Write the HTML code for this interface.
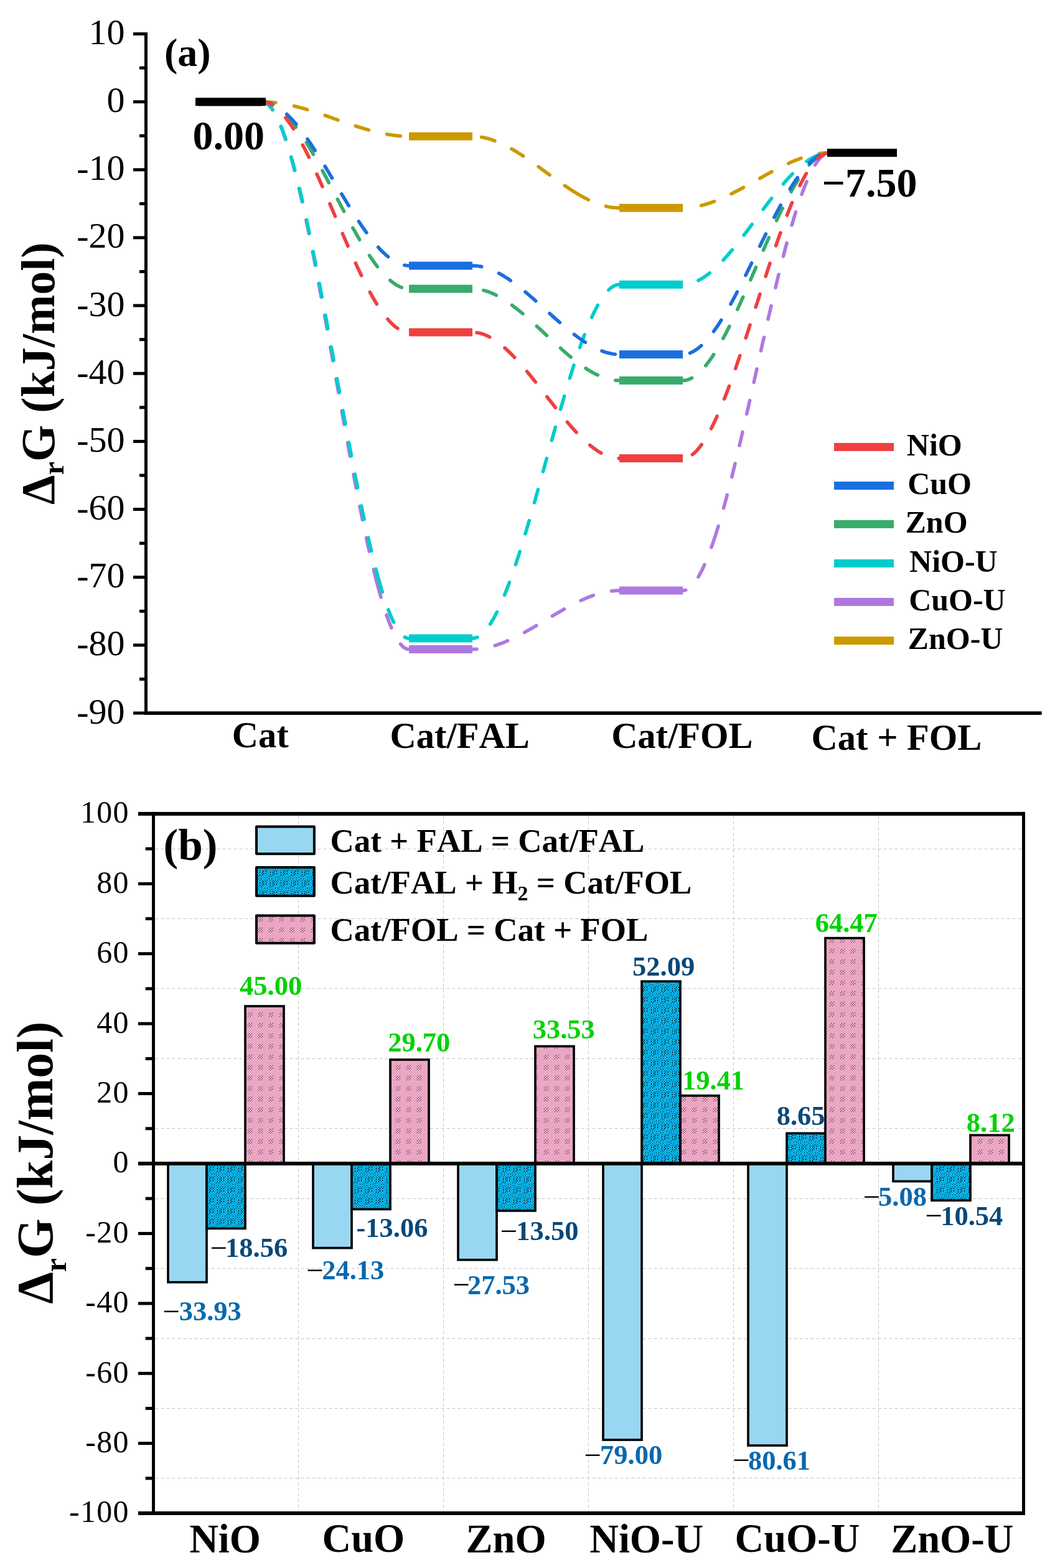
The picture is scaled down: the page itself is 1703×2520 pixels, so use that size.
<!DOCTYPE html>
<html><head><meta charset="utf-8"><style>
html,body{margin:0;padding:0;background:#fff;}
svg{display:block;}
text{font-kerning:none;font-family:"Liberation Serif",serif;}
</style></head><body>
<svg width="1703" height="2520" viewBox="0 0 1703 2520"  style="font-kerning:none">
<rect width="1703" height="2520" fill="#fff"/>
<rect x="214" y="52.00" width="20.50" height="5" fill="#000"/>
<text x="142.51" y="71.00" font-size="58" fill="#000" >10</text>
<rect x="214" y="161.15" width="20.50" height="5" fill="#000"/>
<text x="171.51" y="180.15" font-size="58" fill="#000" >0</text>
<rect x="214" y="270.30" width="20.50" height="5" fill="#000"/>
<text x="123.19" y="289.30" font-size="58" fill="#000" >-10</text>
<rect x="214" y="379.45" width="20.50" height="5" fill="#000"/>
<text x="123.19" y="398.45" font-size="58" fill="#000" >-20</text>
<rect x="214" y="488.60" width="20.50" height="5" fill="#000"/>
<text x="123.19" y="507.60" font-size="58" fill="#000" >-30</text>
<rect x="214" y="597.75" width="20.50" height="5" fill="#000"/>
<text x="123.19" y="616.75" font-size="58" fill="#000" >-40</text>
<rect x="214" y="706.90" width="20.50" height="5" fill="#000"/>
<text x="123.19" y="725.90" font-size="58" fill="#000" >-50</text>
<rect x="214" y="816.05" width="20.50" height="5" fill="#000"/>
<text x="123.19" y="835.05" font-size="58" fill="#000" >-60</text>
<rect x="214" y="925.20" width="20.50" height="5" fill="#000"/>
<text x="123.19" y="944.20" font-size="58" fill="#000" >-70</text>
<rect x="214" y="1034.35" width="20.50" height="5" fill="#000"/>
<text x="123.19" y="1053.35" font-size="58" fill="#000" >-80</text>
<rect x="214" y="1143.50" width="20.50" height="5" fill="#000"/>
<text x="123.19" y="1162.50" font-size="58" fill="#000" >-90</text>
<rect x="224" y="106.58" width="10.50" height="5" fill="#000"/>
<rect x="224" y="215.72" width="10.50" height="5" fill="#000"/>
<rect x="224" y="324.88" width="10.50" height="5" fill="#000"/>
<rect x="224" y="434.02" width="10.50" height="5" fill="#000"/>
<rect x="224" y="543.17" width="10.50" height="5" fill="#000"/>
<rect x="224" y="652.32" width="10.50" height="5" fill="#000"/>
<rect x="224" y="761.47" width="10.50" height="5" fill="#000"/>
<rect x="224" y="870.62" width="10.50" height="5" fill="#000"/>
<rect x="224" y="979.77" width="10.50" height="5" fill="#000"/>
<rect x="224" y="1088.92" width="10.50" height="5" fill="#000"/>
<rect x="232" y="52" width="5" height="1097" fill="#000"/>
<rect x="232" y="1143.3" width="1441.6" height="5.6" fill="#000"/>
<text x="263.99" y="106.38" font-size="64" font-weight="bold" fill="#000" >(a)</text>
<text transform="translate(86.80,810.90) rotate(-90)" x="0" y="0" font-size="76" font-weight="bold">&#916;<tspan font-size="48" dy="15.1">r</tspan><tspan dy="-15.1">G (kJ/mol)</tspan></text>
<text x="372.84" y="1201.13" font-size="58.5" font-weight="bold" fill="#000" >Cat</text>
<text x="626.44" y="1202.43" font-size="58.5" font-weight="bold" fill="#000" >Cat/FAL</text>
<text x="982.14" y="1202.43" font-size="58.5" font-weight="bold" fill="#000" >Cat/FOL</text>
<text x="1303.54" y="1204.93" font-size="58.5" font-weight="bold" fill="#000" >Cat + FOL</text>
<path d="M421.0,163.7 L423.2,163.7 L425.4,163.7 L427.6,163.8 L429.8,163.9 L432.0,164.0 L434.2,164.2 L436.4,164.3 L438.6,164.5 L440.8,164.8 L442.9,165.0 M472.4,170.4 L474.6,170.9 L476.7,171.5 L478.8,172.0 L481.0,172.6 L483.1,173.1 L485.2,173.7 L487.3,174.3 L489.4,174.9 L491.6,175.6 L493.7,176.2 M522.2,185.5 L524.3,186.2 L526.3,186.9 L528.4,187.7 L530.5,188.4 L532.6,189.1 L534.6,189.8 L536.7,190.6 L538.8,191.3 L540.9,192.0 L542.9,192.8 M571.3,202.5 L573.4,203.2 L575.5,203.8 L577.6,204.5 L579.7,205.2 L581.8,205.8 L583.9,206.4 L586.0,207.1 L588.1,207.7 L590.2,208.3 L592.4,208.9 M621.6,215.7 L623.7,216.1 L625.9,216.5 L628.1,216.8 L630.3,217.1 L632.4,217.4 L634.6,217.7 L636.8,217.9 L639.0,218.2 L641.2,218.4 L643.4,218.6" fill="none" stroke="#CC9900" stroke-width="5.6" stroke-linecap="round" stroke-linejoin="round"/>
<path d="M773.7,220.4 L775.9,220.8 L778.0,221.2 L780.2,221.7 L782.3,222.2 L784.4,222.8 L786.6,223.4 L788.7,224.1 L790.7,224.8 L792.8,225.5 L794.9,226.3 M821.9,239.3 L823.8,240.4 L825.7,241.5 L827.6,242.6 L829.5,243.7 L831.3,244.9 L833.2,246.1 L835.1,247.2 L836.9,248.4 L838.8,249.6 L840.6,250.8 M865.2,268.0 L867.0,269.3 L868.8,270.6 L870.5,271.9 L872.3,273.2 L874.1,274.5 L875.9,275.8 L877.6,277.1 L879.4,278.4 L881.2,279.7 L883.0,281.0 M907.4,298.4 L909.2,299.6 L911.1,300.8 L912.9,302.1 L914.7,303.3 L916.6,304.5 L918.4,305.7 L920.3,306.8 L922.1,308.0 L924.0,309.2 L925.9,310.3 M926.1,310.4 L927.9,311.6 L929.8,312.7 L931.7,313.8 L933.6,314.9 L935.6,315.9 L937.5,317.0 L939.4,318.0 L941.4,319.0 L943.4,320.0 L945.3,321.0 M973.4,331.4 L975.8,332.0 L978.1,332.5 L980.5,332.9 L982.9,333.3 L985.3,333.6 L987.7,333.8 L990.2,334.0 L992.6,334.1 L995.0,334.1" fill="none" stroke="#CC9900" stroke-width="5.6" stroke-linecap="round" stroke-linejoin="round"/>
<path d="M1126.7,330.3 L1128.8,329.7 L1130.9,329.2 L1133.0,328.6 L1135.2,327.9 L1137.3,327.3 L1139.3,326.6 L1141.4,325.9 L1143.5,325.2 L1145.6,324.4 L1147.6,323.7 M1175.0,311.5 L1177.0,310.5 L1179.0,309.5 L1180.9,308.5 L1182.9,307.5 L1184.8,306.5 L1186.8,305.4 L1188.7,304.4 L1190.7,303.3 L1192.6,302.3 L1194.5,301.2 M1220.7,286.6 L1222.6,285.5 L1224.5,284.5 L1226.5,283.4 L1228.4,282.3 L1230.3,281.3 L1232.2,280.2 L1234.2,279.1 L1236.1,278.1 L1238.0,277.0 L1240.0,276.0 M1266.8,262.5 L1268.8,261.6 L1270.8,260.7 L1272.8,259.9 L1274.8,259.0 L1276.9,258.2 L1278.9,257.3 L1281.0,256.5 L1283.0,255.8 L1285.1,255.0 L1287.1,254.2 M1316.2,246.8 L1318.6,246.5 L1321.0,246.2 L1323.4,245.9 L1325.8,245.8 L1328.2,245.6 L1330.6,245.5 L1333.0,245.5" fill="none" stroke="#CC9900" stroke-width="5.6" stroke-linecap="round" stroke-linejoin="round"/>
<path d="M421.0,163.7 L423.2,163.9 L425.3,164.5 L427.3,165.5 L429.1,166.7 L430.8,168.1 L432.4,169.6 L433.9,171.2 L435.3,172.9 L436.6,174.7 L437.9,176.5 M451.2,203.3 L452.0,205.3 L452.8,207.4 L453.6,209.4 L454.4,211.5 L455.1,213.6 L455.9,215.6 L456.6,217.7 L457.3,219.8 L458.0,221.9 L458.7,224.0 M467.5,252.6 L468.1,254.8 L468.7,256.9 L469.3,259.0 L469.8,261.1 L470.4,263.2 L471.0,265.4 L471.6,267.5 L472.1,269.6 L472.7,271.8 L473.2,273.9 M480.4,303.0 L481.0,305.1 L481.5,307.3 L482.0,309.4 L482.5,311.6 L483.0,313.7 L483.4,315.9 L483.9,318.0 L484.4,320.1 L484.9,322.3 L485.4,324.4 M491.8,353.7 L492.3,355.9 L492.7,358.0 L493.2,360.2 L493.6,362.4 L494.1,364.5 L494.5,366.7 L495.0,368.8 L495.4,371.0 L495.9,373.1 L496.3,375.3 M502.2,404.7 L502.7,406.8 L503.1,409.0 L503.5,411.2 L503.9,413.3 L504.4,415.5 L504.8,417.6 L505.2,419.8 L505.6,422.0 L506.1,424.1 L506.5,426.3 M512.1,455.7 L512.5,457.9 L512.9,460.1 L513.3,462.2 L513.7,464.4 L514.1,466.6 L514.5,468.7 L514.9,470.9 L515.3,473.0 L515.7,475.2 L516.1,477.4 M521.6,506.9 L522.0,509.0 L522.4,511.2 L522.8,513.4 L523.2,515.5 L523.6,517.7 L523.9,519.9 L524.3,522.0 L524.7,524.2 L525.1,526.3 L525.5,528.5 M530.8,558.0 L531.2,560.2 L531.6,562.4 L532.0,564.5 L532.4,566.7 L532.8,568.9 L533.2,571.0 L533.6,573.2 L534.0,575.4 L534.3,577.5 L534.7,579.7 M540.0,609.2 L540.4,611.4 L540.8,613.6 L541.2,615.7 L541.6,617.9 L541.9,620.1 L542.3,622.2 L542.7,624.4 L543.1,626.5 L543.5,628.7 L543.9,630.9 M549.2,660.4 L549.6,662.6 L550.0,664.7 L550.4,666.9 L550.7,669.1 L551.1,671.2 L551.5,673.4 L551.9,675.6 L552.3,677.7 L552.7,679.9 L553.1,682.1 M558.5,711.6 L558.9,713.7 L559.3,715.9 L559.7,718.1 L560.1,720.2 L560.5,722.4 L560.9,724.5 L561.3,726.7 L561.7,728.9 L562.1,731.0 L562.5,733.2 M568.0,762.7 L568.4,764.8 L568.9,767.0 L569.3,769.2 L569.7,771.3 L570.1,773.5 L570.5,775.6 L570.9,777.8 L571.4,780.0 L571.8,782.1 L572.2,784.3 M578.0,813.7 L578.4,815.9 L578.9,818.0 L579.3,820.2 L579.7,822.3 L580.2,824.5 L580.6,826.7 L581.1,828.8 L581.5,831.0 L581.9,833.1 L582.4,835.3 M588.6,864.6 L589.1,866.8 L589.5,868.9 L590.0,871.1 L590.5,873.2 L591.0,875.4 L591.4,877.5 L591.9,879.7 L592.4,881.8 L592.9,884.0 L593.4,886.1 M600.2,915.3 L600.8,917.4 L601.3,919.6 L601.8,921.7 L602.4,923.8 L602.9,926.0 L603.4,928.1 L604.0,930.2 L604.5,932.4 L605.1,934.5 L605.6,936.6 M606.2,938.7 L606.7,940.8 L607.3,942.9 L607.9,945.0 L608.5,947.2 L609.0,949.3 L609.6,951.4 L610.2,953.5 L610.8,955.6 L611.4,957.8 L612.0,959.9 M621.1,988.5 L621.8,990.6 L622.5,992.6 L623.3,994.7 L624.0,996.8 L624.8,998.8 L625.6,1000.9 L626.4,1002.9 L627.2,1005.0 L628.0,1007.0 L628.9,1009.0 M643.5,1035.1 L645.0,1036.9 L646.7,1038.6 L648.4,1040.1 L650.4,1041.5 L652.4,1042.5 L654.7,1043.3 L657.0,1043.5" fill="none" stroke="#AD79E0" stroke-width="5.6" stroke-linecap="round" stroke-linejoin="round"/>
<path d="M759.0,1043.5 L762.4,1043.4 L765.8,1043.3 M795.2,1037.5 L797.3,1036.9 L799.4,1036.2 L801.4,1035.4 L803.5,1034.7 L805.6,1033.9 L807.6,1033.1 L809.7,1032.3 L811.7,1031.5 L813.7,1030.6 L815.7,1029.8 M842.6,1016.4 L844.5,1015.3 L846.4,1014.2 L848.3,1013.2 L850.3,1012.1 L852.2,1011.0 L854.1,1009.9 L856.0,1008.8 L857.9,1007.7 L859.8,1006.6 L861.7,1005.4 M887.4,990.1 L889.3,988.9 L891.2,987.8 L893.1,986.7 L895.0,985.6 L896.9,984.5 L898.8,983.4 L900.7,982.3 L902.6,981.2 L904.5,980.1 L906.4,979.0 M933.1,965.2 L935.1,964.3 L937.1,963.4 L939.1,962.5 L941.1,961.6 L943.1,960.8 L945.2,959.9 L947.2,959.1 L949.3,958.4 L951.3,957.6 L953.4,956.9 M982.5,949.9 L985.0,949.6 L987.5,949.4 L990.0,949.2 L992.5,949.1 L995.0,949.1" fill="none" stroke="#AD79E0" stroke-width="5.6" stroke-linecap="round" stroke-linejoin="round"/>
<path d="M1097.0,949.1 L1099.3,948.9 L1101.6,948.3 M1122.0,927.1 L1123.1,925.2 L1124.2,923.2 L1125.2,921.3 L1126.2,919.3 L1127.2,917.4 L1128.2,915.4 L1129.2,913.4 L1130.1,911.4 L1131.0,909.4 L1131.9,907.4 M1142.9,879.5 L1143.8,876.9 L1144.8,874.3 L1145.7,871.7 L1146.6,869.1 L1147.4,866.4 M1147.4,866.4 L1148.1,864.4 L1148.8,862.3 L1149.5,860.2 L1150.2,858.1 L1150.8,856.0 L1151.5,853.9 L1152.2,851.8 L1152.8,849.7 L1153.5,847.6 L1154.1,845.5 M1162.5,816.7 L1163.1,814.6 L1163.7,812.4 L1164.2,810.3 L1164.8,808.2 L1165.4,806.1 L1166.0,803.9 L1166.5,801.8 L1167.1,799.7 L1167.7,797.6 L1168.2,795.4 M1175.7,766.4 L1176.3,764.3 L1176.8,762.1 L1177.3,760.0 L1177.9,757.9 L1178.4,755.7 L1178.9,753.6 L1179.5,751.4 L1180.0,749.3 L1180.5,747.2 L1181.0,745.0 M1188.0,715.9 L1188.5,713.7 L1189.0,711.6 L1189.5,709.4 L1190.0,707.3 L1190.5,705.2 L1191.0,703.0 L1191.5,700.9 L1192.0,698.7 L1192.5,696.6 L1193.0,694.4 M1199.7,665.2 L1200.2,663.1 L1200.7,660.9 L1201.2,658.8 L1201.7,656.6 L1202.2,654.5 L1202.7,652.3 L1203.1,650.2 L1203.6,648.0 L1204.1,645.9 L1204.6,643.7 M1211.2,614.5 L1211.6,612.3 L1212.1,610.2 L1212.6,608.0 L1213.1,605.9 L1213.6,603.7 L1214.0,601.6 L1214.5,599.4 L1215.0,597.3 L1215.5,595.1 L1216.0,593.0 M1222.5,563.7 L1223.0,561.6 L1223.5,559.4 L1224.0,557.3 L1224.4,555.1 L1224.9,553.0 L1225.4,550.8 L1225.9,548.7 L1226.4,546.6 L1226.9,544.4 L1227.4,542.3 M1234.0,513.0 L1234.5,510.9 L1235.0,508.7 L1235.5,506.6 L1236.0,504.4 L1236.5,502.3 L1237.0,500.2 L1237.5,498.0 L1238.0,495.9 L1238.5,493.7 L1239.0,491.6 M1245.9,462.4 L1246.4,460.2 L1246.9,458.1 L1247.4,456.0 L1247.9,453.8 L1248.5,451.7 L1249.0,449.6 L1249.5,447.4 L1250.0,445.3 L1250.5,443.1 L1251.1,441.0 M1258.4,411.9 L1259.0,409.8 L1259.5,407.7 L1260.1,405.5 L1260.6,403.4 L1261.2,401.3 L1261.8,399.1 L1262.3,397.0 L1262.9,394.9 L1263.5,392.8 L1264.0,390.6 M1272.1,361.8 L1272.8,359.7 L1273.4,357.5 L1274.0,355.4 L1274.6,353.3 L1275.3,351.2 L1275.9,349.1 L1276.6,347.0 L1277.2,344.9 L1277.9,342.8 L1278.5,340.7 M1288.1,312.3 L1288.8,310.2 L1289.6,308.1 L1290.4,306.1 L1291.2,304.0 L1291.9,302.0 L1292.7,299.9 L1293.6,297.9 L1294.4,295.8 L1295.2,293.8 L1296.1,291.8 M1309.5,265.0 L1310.7,263.2 L1311.9,261.3 L1313.2,259.5 L1314.5,257.8 L1315.9,256.1 L1317.3,254.4 L1318.9,252.8 L1320.4,251.3 L1322.1,249.9 L1323.9,248.6" fill="none" stroke="#AD79E0" stroke-width="5.6" stroke-linecap="round" stroke-linejoin="round"/>
<path d="M421.0,163.7 L423.2,163.9 L425.3,164.5 L427.3,165.4 L429.1,166.6 L430.8,168.0 L432.4,169.5 L433.9,171.1 L435.3,172.8 L436.7,174.6 L438.0,176.4 M451.5,203.1 L452.3,205.1 L453.1,207.2 L453.9,209.2 L454.7,211.3 L455.4,213.3 L456.2,215.4 L456.9,217.5 L457.6,219.6 L458.4,221.6 L459.1,223.7 M467.9,252.4 L468.5,254.5 L469.1,256.6 L469.7,258.7 L470.3,260.9 L470.9,263.0 L471.5,265.1 L472.0,267.2 L472.6,269.4 L473.2,271.5 L473.7,273.6 M481.0,302.7 L481.6,304.8 L482.1,307.0 L482.6,309.1 L483.1,311.3 L483.6,313.4 L484.1,315.5 L484.6,317.7 L485.1,319.8 L485.6,322.0 L486.1,324.1 M492.6,353.4 L493.0,355.6 L493.5,357.7 L493.9,359.9 L494.4,362.0 L494.9,364.2 L495.3,366.3 L495.8,368.5 L496.2,370.6 L496.7,372.8 L497.1,374.9 M503.1,404.3 L503.6,406.5 L504.0,408.6 L504.4,410.8 L504.9,413.0 L505.3,415.1 L505.7,417.3 L506.2,419.4 L506.6,421.6 L507.0,423.7 L507.4,425.9 M513.1,455.4 L513.6,457.5 L514.0,459.7 L514.4,461.8 L514.8,464.0 L515.2,466.2 L515.6,468.3 L516.0,470.5 L516.4,472.6 L516.8,474.8 L517.3,477.0 M522.8,506.5 L523.2,508.6 L523.6,510.8 L524.0,512.9 L524.4,515.1 L524.8,517.3 L525.2,519.4 L525.6,521.6 L526.0,523.8 L526.4,525.9 L526.8,528.1 M532.2,557.6 L532.6,559.8 L533.0,561.9 L533.4,564.1 L533.8,566.2 L534.2,568.4 L534.6,570.6 L535.0,572.7 L535.4,574.9 L535.8,577.1 L536.2,579.2 M541.5,608.7 L541.9,610.9 L542.3,613.1 L542.7,615.2 L543.1,617.4 L543.5,619.6 L543.9,621.7 L544.3,623.9 L544.7,626.1 L545.1,628.2 L545.5,630.4 M550.9,659.9 L551.3,662.1 L551.7,664.2 L552.1,666.4 L552.5,668.5 L552.9,670.7 L553.3,672.9 L553.7,675.0 L554.1,677.2 L554.5,679.4 L554.9,681.5 M560.4,711.0 L560.8,713.2 L561.3,715.3 L561.7,717.5 L562.1,719.7 L562.5,721.8 L562.9,724.0 L563.3,726.1 L563.7,728.3 L564.1,730.5 L564.5,732.6 M570.3,762.1 L570.7,764.2 L571.1,766.4 L571.5,768.6 L572.0,770.7 L572.4,772.9 L572.8,775.0 L573.2,777.2 L573.7,779.3 L574.1,781.5 L574.5,783.7 M580.5,813.0 L581.0,815.2 L581.4,817.4 L581.9,819.5 L582.3,821.7 L582.8,823.8 L583.3,826.0 L583.7,828.1 L584.2,830.3 L584.6,832.4 L585.1,834.6 M591.6,863.9 L592.1,866.0 L592.6,868.2 L593.0,870.3 L593.5,872.4 L594.0,874.6 L594.5,876.7 L595.0,878.9 L595.6,881.0 L596.1,883.1 L596.6,885.3 M603.8,914.4 L604.4,916.7 L605.0,919.0 L605.7,921.3 L606.3,923.5 L606.9,925.8 L607.5,928.1 L608.1,930.4 M608.1,930.4 L608.7,932.5 L609.3,934.6 L609.9,936.7 L610.5,938.8 L611.2,941.0 L611.8,943.1 L612.4,945.2 L613.0,947.3 L613.7,949.4 L614.3,951.5 M623.9,979.9 L624.7,982.0 L625.5,984.0 L626.3,986.1 L627.2,988.1 L628.0,990.1 L628.9,992.1 L629.8,994.2 L630.7,996.2 L631.6,998.1 L632.6,1000.1 M650.3,1023.9 L653.5,1025.4 L657.0,1025.9" fill="none" stroke="#00CCCC" stroke-width="5.6" stroke-linecap="round" stroke-linejoin="round"/>
<path d="M759.0,1025.9 L761.7,1025.7 L764.4,1025.1 L766.9,1024.1 M787.6,1002.9 L788.8,1001.0 L790.0,999.1 L791.1,997.2 L792.2,995.3 L793.3,993.4 L794.3,991.5 L795.4,989.6 L796.4,987.6 L797.4,985.6 L798.4,983.7 M810.6,956.3 L811.4,954.2 L812.2,952.2 L813.0,950.2 L813.8,948.1 L814.6,946.0 L815.4,944.0 L816.2,941.9 L817.0,939.9 L817.7,937.8 L818.5,935.8 M828.4,907.4 L829.1,905.3 L829.8,903.2 L830.4,901.2 L831.1,899.1 L831.8,897.0 L832.5,894.9 L833.2,892.8 L833.8,890.7 L834.5,888.6 L835.2,886.5 M844.0,857.8 L844.6,855.7 L845.3,853.6 L845.9,851.5 L846.5,849.4 L847.1,847.3 L847.8,845.2 L848.4,843.1 L849.0,841.0 L849.6,838.8 L850.2,836.7 M858.5,807.9 L859.1,805.8 L859.7,803.7 L860.3,801.5 L860.9,799.4 L861.5,797.3 L862.1,795.2 L862.7,793.1 L863.3,791.0 L863.9,788.8 L864.5,786.7 M872.5,757.8 L873.1,755.7 L873.7,753.6 L874.3,751.5 L874.9,749.3 L875.5,747.2 L876.0,745.1 L876.6,743.0 L877.2,740.9 L877.8,738.7 L878.4,736.6 M886.4,707.7 L887.0,705.6 L887.6,703.5 L888.2,701.4 L888.8,699.2 L889.4,697.1 L890.0,695.0 L890.6,692.9 L891.2,690.8 L891.7,688.6 L892.3,686.5 M900.6,657.7 L901.2,655.6 L901.8,653.4 L902.4,651.3 L903.0,649.2 L903.6,647.1 L904.2,645.0 L904.8,642.9 L905.5,640.8 L906.1,638.7 L906.7,636.5 M915.4,607.8 L916.0,605.7 L916.7,603.6 L917.3,601.5 L918.0,599.4 L918.7,597.3 L919.3,595.2 L920.0,593.1 L920.7,591.0 L921.3,588.9 L922.0,586.9 M931.6,558.4 L932.3,556.4 L933.1,554.3 L933.8,552.2 L934.6,550.1 L935.3,548.1 L936.1,546.0 L936.8,543.9 L937.6,541.9 L938.4,539.8 L939.2,537.8 M950.7,510.1 L951.6,508.1 L952.5,506.1 L953.4,504.1 L954.4,502.1 L955.4,500.1 L956.3,498.1 L957.3,496.2 L958.4,494.2 L959.4,492.3 L960.4,490.4 M977.8,466.0 L979.6,464.3 L981.5,462.7 L983.5,461.3 L985.6,460.0 L987.8,458.9 L990.1,458.1 L992.5,457.6 L995.0,457.4" fill="none" stroke="#00CCCC" stroke-width="5.6" stroke-linecap="round" stroke-linejoin="round"/>
<path d="M1121.9,450.8 L1123.9,449.8 L1125.8,448.7 L1127.7,447.6 L1129.5,446.4 L1131.4,445.2 L1133.2,444.0 L1135.0,442.7 L1136.7,441.4 L1138.5,440.0 L1140.2,438.7 M1162.0,418.0 L1163.5,416.4 L1164.9,414.8 L1166.4,413.2 L1167.9,411.5 L1169.3,409.9 L1170.8,408.2 L1172.2,406.5 L1173.6,404.9 L1175.0,403.2 L1176.5,401.5 M1195.1,378.0 L1196.4,376.2 L1197.8,374.5 L1199.1,372.7 L1200.4,371.0 L1201.7,369.2 L1203.1,367.5 L1204.4,365.7 L1205.7,363.9 L1207.0,362.2 L1208.3,360.4 M1226.2,336.4 L1227.6,334.6 L1228.9,332.8 L1230.2,331.1 L1231.5,329.3 L1232.9,327.6 L1234.2,325.8 L1235.5,324.1 L1236.9,322.3 L1238.2,320.6 L1239.6,318.8 M1258.5,295.6 L1259.9,293.9 L1261.4,292.2 L1262.8,290.6 L1264.3,288.9 L1265.8,287.3 L1267.2,285.7 L1268.7,284.1 L1270.3,282.5 L1271.8,280.9 L1273.3,279.3 M1295.9,259.6 L1297.7,258.3 L1299.5,257.1 L1301.3,255.9 L1303.2,254.8 L1305.1,253.7 L1307.1,252.6 L1309.0,251.6 L1311.0,250.7 L1313.0,249.8 L1315.1,249.0" fill="none" stroke="#00CCCC" stroke-width="5.6" stroke-linecap="round" stroke-linejoin="round"/>
<path d="M421.0,163.7 L423.3,163.7 L425.5,164.0 L427.8,164.4 L430.0,164.9 L432.2,165.6 L434.3,166.4 L436.4,167.3 L438.4,168.3 M461.5,187.2 L463.0,188.8 L464.5,190.5 L465.9,192.1 L467.3,193.8 L468.7,195.5 L470.1,197.2 L471.4,199.0 L472.8,200.7 L474.1,202.5 L475.4,204.2 M492.2,229.1 L493.3,231.0 L494.5,232.9 L495.6,234.8 L496.7,236.6 L497.9,238.5 L499.0,240.4 L500.1,242.3 L501.2,244.2 L502.3,246.1 L503.4,248.0 M518.0,274.2 L519.1,276.2 L520.1,278.1 L521.1,280.1 L522.2,282.0 L523.2,283.9 L524.3,285.9 L525.3,287.8 L526.3,289.8 L527.3,291.7 L528.4,293.6 M542.3,320.2 L543.3,322.2 L544.4,324.1 L545.4,326.1 L546.4,328.0 L547.4,330.0 L548.4,331.9 L549.5,333.8 L550.5,335.8 L551.5,337.7 L552.6,339.7 M566.8,366.1 L567.9,368.0 L569.0,369.9 L570.1,371.8 L571.1,373.7 L572.2,375.7 L573.3,377.6 L574.4,379.5 L575.5,381.4 L576.6,383.3 L577.7,385.2 M593.6,410.7 L594.8,412.5 L596.0,414.3 L597.3,416.1 L598.5,417.9 L599.8,419.7 L601.1,421.5 L602.4,423.3 L603.7,425.1 L605.0,426.8 L606.3,428.6 M626.7,450.5 L628.4,451.9 L630.1,453.3 L631.9,454.6 L633.7,455.9 L635.5,457.1 L637.4,458.3 L639.3,459.3 L641.3,460.3 L643.3,461.2 L645.3,462.0" fill="none" stroke="#38AC6A" stroke-width="5.6" stroke-linecap="round" stroke-linejoin="round"/>
<path d="M776.9,466.6 L779.0,467.1 L781.1,467.8 L783.2,468.5 L785.3,469.2 L787.3,470.0 L789.4,470.8 L791.4,471.7 L793.4,472.6 L795.4,473.6 L797.3,474.5 M822.7,490.5 L824.4,491.9 L826.2,493.2 L827.9,494.5 L829.7,495.9 L831.4,497.2 L833.1,498.6 L834.8,500.0 L836.5,501.4 L838.2,502.8 L839.9,504.2 M862.3,524.1 L863.9,525.6 L865.6,527.1 L867.2,528.6 L868.8,530.1 L870.4,531.6 L872.0,533.1 L873.6,534.6 L875.2,536.1 L876.8,537.6 L878.4,539.1 M900.5,559.5 L902.1,561.0 L903.7,562.4 L905.4,563.9 L907.0,565.3 L908.7,566.8 L910.4,568.2 L912.0,569.7 L913.7,571.1 L915.4,572.5 L917.1,573.9 M941.1,591.9 L942.9,593.1 L944.8,594.3 L946.6,595.5 L948.5,596.6 L950.4,597.7 L952.3,598.8 L954.3,599.8 L956.2,600.9 L958.2,601.8 L960.2,602.8 M988.8,611.2 L991.9,611.4 L995.0,611.5" fill="none" stroke="#38AC6A" stroke-width="5.6" stroke-linecap="round" stroke-linejoin="round"/>
<path d="M1097.0,611.5 L1099.5,611.4 L1102.0,611.0 L1104.5,610.4 L1106.9,609.6 L1109.2,608.6 L1111.5,607.5 M1133.7,587.6 L1135.1,585.9 L1136.5,584.2 L1137.8,582.4 L1139.1,580.7 L1140.4,578.9 L1141.7,577.1 L1142.9,575.3 L1144.2,573.5 L1145.4,571.6 L1146.6,569.8 M1161.8,543.9 L1162.8,542.0 L1163.8,540.1 L1164.9,538.1 L1165.9,536.2 L1166.9,534.2 L1167.9,532.2 L1168.9,530.3 L1169.9,528.3 L1170.9,526.4 L1171.9,524.4 M1184.8,497.3 L1185.7,495.3 L1186.6,493.3 L1187.5,491.3 L1188.4,489.3 L1189.3,487.3 L1190.2,485.3 L1191.1,483.3 L1192.0,481.3 L1192.9,479.3 L1193.8,477.3 M1205.8,449.8 L1206.7,447.7 L1207.6,445.7 L1208.5,443.7 L1209.3,441.7 L1210.2,439.7 L1211.1,437.6 L1211.9,435.6 L1212.8,433.6 L1213.7,431.6 L1214.5,429.6 M1226.4,402.0 L1227.3,400.0 L1228.2,398.0 L1229.1,396.0 L1229.9,393.9 L1230.8,391.9 L1231.7,389.9 L1232.6,387.9 L1233.5,385.9 L1234.4,383.9 L1235.2,381.9 M1247.6,354.5 L1248.6,352.5 L1249.5,350.6 L1250.4,348.6 L1251.4,346.6 L1252.3,344.6 L1253.3,342.6 L1254.2,340.6 L1255.2,338.6 L1256.1,336.7 L1257.1,334.7 M1271.0,308.1 L1272.0,306.2 L1273.1,304.2 L1274.2,302.3 L1275.3,300.4 L1276.4,298.5 L1277.5,296.6 L1278.7,294.8 L1279.8,292.9 L1281.0,291.0 L1282.2,289.1 M1300.0,265.0 L1301.4,263.4 L1302.9,261.8 L1304.5,260.2 L1306.1,258.7 L1307.7,257.2 L1309.4,255.8 L1311.1,254.4 L1312.8,253.1 L1314.6,251.8 L1316.5,250.6" fill="none" stroke="#38AC6A" stroke-width="5.6" stroke-linecap="round" stroke-linejoin="round"/>
<path d="M421.0,163.7 L423.6,163.7 L426.1,164.0 L428.7,164.5 L431.2,165.1 L433.7,165.8 L436.1,166.7 M460.7,183.5 L462.3,185.1 L463.9,186.6 L465.5,188.2 L467.0,189.7 L468.5,191.4 L470.0,193.0 L471.4,194.6 L472.9,196.3 L474.3,197.9 L475.8,199.6 M493.9,223.5 L495.1,225.3 L496.4,227.1 L497.6,228.9 L498.9,230.7 L500.1,232.6 L501.3,234.4 L502.5,236.2 L503.7,238.1 L504.9,239.9 L506.1,241.8 M522.1,267.2 L523.2,269.1 L524.4,270.9 L525.5,272.8 L526.6,274.7 L527.8,276.6 L528.9,278.5 L530.0,280.4 L531.2,282.3 L532.3,284.1 L533.4,286.0 M548.8,311.8 L550.0,313.7 L551.1,315.5 L552.2,317.4 L553.4,319.3 L554.5,321.2 L555.7,323.1 L556.8,324.9 L558.0,326.8 L559.1,328.7 L560.3,330.6 M576.4,355.9 L577.6,357.7 L578.8,359.5 L580.1,361.3 L581.3,363.2 L582.6,365.0 L583.8,366.8 L585.1,368.6 L586.4,370.4 L587.6,372.2 L588.9,373.9 M607.7,397.3 L609.2,399.0 L610.7,400.6 L612.2,402.2 L613.7,403.7 L615.3,405.3 L616.9,406.8 L618.5,408.3 L620.1,409.8 L621.8,411.2 L623.5,412.6 M649.8,426.3 L653.4,426.8 L657.0,427.0" fill="none" stroke="#1A6FDF" stroke-width="5.6" stroke-linecap="round" stroke-linejoin="round"/>
<path d="M759.0,427.0 L761.5,427.1 L763.9,427.2 L766.4,427.4 L768.8,427.8 L771.3,428.1 L773.7,428.6 M801.6,439.3 L803.5,440.3 L805.5,441.4 L807.4,442.5 L809.3,443.7 L811.1,444.8 L813.0,446.0 L814.8,447.2 L816.7,448.4 L818.5,449.6 L820.3,450.9 M844.0,469.2 L845.7,470.6 L847.4,472.0 L849.1,473.5 L850.7,474.9 L852.4,476.3 L854.1,477.8 L855.7,479.2 L857.4,480.7 L859.0,482.1 L860.7,483.6 M883.0,503.7 L884.6,505.2 L886.2,506.6 L887.9,508.1 L889.5,509.6 L891.1,511.1 L892.8,512.5 L894.4,514.0 L896.1,515.4 L897.7,516.9 L899.4,518.3 M922.5,537.5 L924.2,538.8 L926.0,540.1 L927.7,541.4 L929.5,542.7 L931.3,544.0 L933.1,545.3 L934.9,546.6 L936.7,547.8 L938.6,549.0 L940.4,550.2 M967.0,564.0 L969.0,564.8 L971.1,565.5 L973.2,566.2 L975.3,566.8 L977.5,567.3 L979.6,567.8 L981.8,568.3 L983.9,568.7 L986.1,569.0 L988.3,569.2" fill="none" stroke="#1A6FDF" stroke-width="5.6" stroke-linecap="round" stroke-linejoin="round"/>
<path d="M1108.5,567.3 L1110.6,566.5 L1112.5,565.6 L1114.5,564.5 L1116.4,563.4 L1118.2,562.2 L1120.0,560.9 L1121.8,559.6 L1123.5,558.2 L1125.2,556.8 L1126.8,555.4 M1146.5,532.8 L1147.8,531.0 L1149.1,529.2 L1150.3,527.4 L1151.6,525.6 L1152.8,523.8 L1154.0,521.9 L1155.2,520.1 L1156.4,518.3 L1157.6,516.4 L1158.8,514.5 M1174.0,488.7 L1175.0,486.7 L1176.1,484.8 L1177.1,482.9 L1178.2,480.9 L1179.2,479.0 L1180.2,477.1 L1181.3,475.1 L1182.3,473.2 L1183.3,471.2 L1184.3,469.3 M1197.9,442.5 L1198.9,440.5 L1199.9,438.6 L1200.8,436.6 L1201.8,434.6 L1202.8,432.6 L1203.7,430.7 L1204.7,428.7 L1205.7,426.7 L1206.6,424.7 L1207.6,422.8 M1220.7,395.8 L1221.7,393.8 L1222.6,391.8 L1223.6,389.8 L1224.6,387.9 L1225.5,385.9 L1226.5,383.9 L1227.5,381.9 L1228.4,380.0 L1229.4,378.0 L1230.4,376.0 M1243.9,349.2 L1244.9,347.3 L1245.9,345.3 L1246.9,343.4 L1248.0,341.4 L1249.0,339.5 L1250.0,337.5 L1251.1,335.6 L1252.1,333.7 L1253.1,331.7 L1254.2,329.8 M1269.2,303.8 L1270.3,301.9 L1271.5,300.1 L1272.7,298.2 L1273.9,296.4 L1275.1,294.5 L1276.3,292.7 L1277.5,290.9 L1278.7,289.0 L1280.0,287.2 L1281.3,285.4 M1300.4,262.4 L1302.0,260.8 L1303.6,259.4 L1305.2,257.9 L1306.9,256.5 L1308.7,255.1 L1310.4,253.8 L1312.3,252.6 L1314.1,251.4 L1316.0,250.3 L1318.0,249.3" fill="none" stroke="#1A6FDF" stroke-width="5.6" stroke-linecap="round" stroke-linejoin="round"/>
<path d="M421.0,163.7 L423.4,163.8 L425.8,164.1 L428.2,164.7 L430.5,165.4 L432.8,166.3 L434.9,167.4 L437.1,168.6 M458.8,189.1 L460.1,190.8 L461.4,192.5 L462.7,194.3 L464.0,196.1 L465.3,197.9 L466.5,199.7 L467.8,201.5 L469.0,203.4 L470.2,205.2 L471.4,207.1 M486.3,233.1 L487.3,235.0 L488.4,237.0 L489.4,238.9 L490.4,240.9 L491.4,242.8 L492.4,244.8 L493.4,246.8 L494.3,248.7 L495.3,250.7 L496.3,252.7 M509.0,279.8 L510.0,281.8 L510.9,283.8 L511.8,285.8 L512.7,287.8 L513.6,289.9 L514.4,291.9 L515.3,293.9 L516.2,295.9 L517.1,297.9 L518.0,299.9 M529.9,327.5 L530.8,329.5 L531.6,331.5 L532.5,333.5 L533.4,335.6 L534.2,337.6 L535.1,339.6 L535.9,341.6 L536.8,343.6 L537.7,345.7 L538.5,347.7 M550.3,375.3 L551.1,377.3 L552.0,379.3 L552.9,381.4 L553.8,383.4 L554.6,385.4 L555.5,387.4 L556.4,389.4 L557.3,391.5 L558.1,393.5 L559.0,395.5 M571.3,422.9 L572.2,424.9 L573.1,426.9 L574.0,428.9 L575.0,430.9 L575.9,432.9 L576.8,434.8 L577.8,436.8 L578.7,438.8 L579.7,440.8 L580.6,442.8 M594.3,469.5 L595.4,471.4 L596.4,473.3 L597.5,475.3 L598.6,477.2 L599.7,479.1 L600.8,481.0 L601.9,482.9 L603.0,484.8 L604.2,486.6 L605.3,488.5 M622.8,512.9 L624.2,514.5 L625.7,516.2 L627.2,517.8 L628.7,519.3 L630.3,520.9 L632.0,522.4 L633.6,523.8 L635.3,525.2 L637.1,526.5 L638.9,527.8" fill="none" stroke="#EF4040" stroke-width="5.6" stroke-linecap="round" stroke-linejoin="round"/>
<path d="M766.0,534.5 L768.1,534.9 L770.3,535.3 L772.4,535.9 L774.5,536.5 L776.6,537.2 L778.7,538.0 L780.7,538.8 L782.7,539.7 L784.7,540.7 L786.7,541.7 M811.0,559.1 L812.6,560.6 L814.2,562.1 L815.8,563.6 L817.4,565.1 L819.0,566.6 L820.6,568.2 L822.1,569.7 L823.7,571.3 L825.2,572.9 L826.7,574.5 M846.6,597.0 L848.0,598.7 L849.4,600.4 L850.8,602.1 L852.2,603.8 L853.5,605.5 L854.9,607.2 L856.3,608.9 L857.7,610.6 L859.1,612.4 L860.4,614.1 M878.9,637.7 L880.2,639.5 L881.6,641.2 L882.9,642.9 L884.3,644.7 L885.6,646.4 L887.0,648.1 L888.4,649.9 L889.7,651.6 L891.1,653.3 L892.4,655.1 M911.4,678.3 L912.8,680.0 L914.2,681.7 L915.7,683.3 L917.1,685.0 L918.6,686.6 L920.1,688.3 L921.5,689.9 L923.0,691.5 L924.5,693.1 L926.0,694.8 M947.7,715.4 L949.4,716.8 L951.1,718.2 L952.9,719.5 L954.6,720.8 L956.4,722.1 L958.2,723.4 L960.1,724.6 L961.9,725.8 L963.8,726.9 L965.7,728.0 M994.2,736.6 L994.6,736.6 L995.0,736.6" fill="none" stroke="#EF4040" stroke-width="5.6" stroke-linecap="round" stroke-linejoin="round"/>
<path d="M1112.4,730.6 L1114.1,729.2 L1115.8,727.8 L1117.3,726.3 L1118.9,724.7 L1120.4,723.1 L1121.8,721.4 L1123.2,719.7 L1124.6,718.0 L1125.9,716.2 L1127.2,714.5 M1142.6,688.7 L1143.6,686.8 L1144.6,684.8 L1145.5,682.8 L1146.5,680.8 L1147.4,678.9 L1148.4,676.9 L1149.3,674.9 L1150.2,672.9 L1151.2,670.9 L1152.1,668.9 M1163.6,641.2 L1164.5,639.2 L1165.3,637.1 L1166.1,635.1 L1166.8,633.0 L1167.6,631.0 L1168.4,628.9 L1169.2,626.8 L1170.0,624.8 L1170.7,622.7 L1171.5,620.7 M1181.6,592.4 L1182.4,590.3 L1183.1,588.3 L1183.8,586.2 L1184.5,584.1 L1185.2,582.0 L1185.9,579.9 L1186.6,577.9 L1187.3,575.8 L1188.1,573.7 L1188.8,571.6 M1198.2,543.1 L1198.9,541.0 L1199.6,538.9 L1200.2,536.9 L1200.9,534.8 L1201.6,532.7 L1202.3,530.6 L1203.0,528.5 L1203.6,526.4 L1204.3,524.3 L1205.0,522.2 M1214.2,493.6 L1214.8,491.5 L1215.5,489.5 L1216.2,487.4 L1216.9,485.3 L1217.5,483.2 L1218.2,481.1 L1218.9,479.0 L1219.5,476.9 L1220.2,474.8 L1220.9,472.7 M1230.1,444.1 L1230.8,442.1 L1231.5,440.0 L1232.2,437.9 L1232.8,435.8 L1233.5,433.7 L1234.2,431.6 L1234.9,429.5 L1235.6,427.4 L1236.3,425.3 L1237.0,423.2 M1246.6,394.8 L1247.3,392.7 L1248.0,390.7 L1248.7,388.6 L1249.5,386.5 L1250.2,384.4 L1250.9,382.4 L1251.7,380.3 L1252.4,378.2 L1253.1,376.1 L1253.9,374.1 M1264.4,346.0 L1265.2,343.9 L1266.0,341.9 L1266.8,339.8 L1267.6,337.8 L1268.4,335.7 L1269.2,333.7 L1270.1,331.7 L1270.9,329.6 L1271.7,327.6 L1272.6,325.6 M1285.0,298.2 L1286.0,296.3 L1286.9,294.3 L1288.0,292.4 L1289.0,290.4 L1290.0,288.5 L1291.1,286.5 L1292.1,284.6 L1293.2,282.7 L1294.3,280.8 L1295.4,278.9 M1313.5,255.0 L1315.1,253.6 L1316.8,252.1 L1318.5,250.8 L1320.4,249.6 L1322.3,248.5 L1324.2,247.5 L1326.3,246.7 L1328.4,246.1 L1330.6,245.7 L1332.7,245.5" fill="none" stroke="#EF4040" stroke-width="5.6" stroke-linecap="round" stroke-linejoin="round"/>
<rect x="319" y="157.15" width="102" height="13" fill="#CC9900"/>
<rect x="657" y="212.60" width="102" height="13" fill="#CC9900"/>
<rect x="995" y="327.64" width="102" height="13" fill="#CC9900"/>
<rect x="1333" y="239.01" width="102" height="13" fill="#CC9900"/>
<rect x="319" y="157.15" width="102" height="13" fill="#AD79E0"/>
<rect x="657" y="1037.01" width="102" height="13" fill="#AD79E0"/>
<rect x="995" y="942.59" width="102" height="13" fill="#AD79E0"/>
<rect x="1333" y="239.01" width="102" height="13" fill="#AD79E0"/>
<rect x="319" y="157.15" width="102" height="13" fill="#00CCCC"/>
<rect x="657" y="1019.43" width="102" height="13" fill="#00CCCC"/>
<rect x="995" y="450.87" width="102" height="13" fill="#00CCCC"/>
<rect x="1333" y="239.01" width="102" height="13" fill="#00CCCC"/>
<rect x="319" y="157.15" width="102" height="13" fill="#38AC6A"/>
<rect x="657" y="457.64" width="102" height="13" fill="#38AC6A"/>
<rect x="995" y="604.99" width="102" height="13" fill="#38AC6A"/>
<rect x="1333" y="239.01" width="102" height="13" fill="#38AC6A"/>
<rect x="319" y="157.15" width="102" height="13" fill="#1A6FDF"/>
<rect x="657" y="420.53" width="102" height="13" fill="#1A6FDF"/>
<rect x="995" y="563.08" width="102" height="13" fill="#1A6FDF"/>
<rect x="1333" y="239.01" width="102" height="13" fill="#1A6FDF"/>
<rect x="319" y="157.15" width="102" height="13" fill="#EF4040"/>
<rect x="657" y="527.50" width="102" height="13" fill="#EF4040"/>
<rect x="995" y="730.08" width="102" height="13" fill="#EF4040"/>
<rect x="1333" y="239.01" width="102" height="13" fill="#EF4040"/>
<rect x="314" y="157.15" width="113" height="13" fill="#000"/>
<rect x="1329" y="239.01" width="112" height="13" fill="#000"/>
<text x="309.49" y="239.87" font-size="66" font-weight="bold" fill="#000" >0.00</text>
<text x="1320.42" y="315.57" font-size="66" font-weight="bold" fill="#000" >−7.50</text>
<rect x="1340" y="711.90" width="96" height="13" fill="#EF4040"/>
<text x="1456.85" y="732.00" font-size="50" font-weight="bold" fill="#000" >NiO</text>
<rect x="1340" y="774.00" width="96" height="13" fill="#1A6FDF"/>
<text x="1458.16" y="794.10" font-size="50" font-weight="bold" fill="#000" >CuO</text>
<rect x="1340" y="835.90" width="96" height="13" fill="#38AC6A"/>
<text x="1454.51" y="856.00" font-size="50" font-weight="bold" fill="#000" >ZnO</text>
<rect x="1340" y="899.00" width="96" height="13" fill="#00CCCC"/>
<text x="1461.05" y="919.10" font-size="50" font-weight="bold" fill="#000" >NiO-U</text>
<rect x="1340" y="960.90" width="96" height="13" fill="#AD79E0"/>
<text x="1460.16" y="981.00" font-size="50" font-weight="bold" fill="#000" >CuO-U</text>
<rect x="1340" y="1023.10" width="96" height="13" fill="#CC9900"/>
<text x="1458.61" y="1043.20" font-size="50" font-weight="bold" fill="#000" >ZnO-U</text>
<defs>
<pattern id="pb" patternUnits="userSpaceOnUse" x="1034" y="1590" width="17" height="17">
<rect width="17" height="17" fill="#0BAEE2"/>
<g fill="#000">
<rect x="1" y="0" width="1" height="2"/><rect x="5" y="0" width="1" height="2"/>
<rect x="12" y="2" width="1" height="2"/><rect x="16" y="2" width="1" height="2"/>
<rect x="1" y="13" width="1" height="2"/><rect x="5" y="13" width="1" height="2"/>
<rect x="12" y="15" width="1" height="2"/><rect x="16" y="15" width="1" height="2"/>
<rect x="10" y="5" width="1" height="1"/><rect x="14" y="5" width="1" height="1"/>
<rect x="3" y="7" width="1" height="1"/><rect x="7" y="7" width="1" height="1"/>
<rect x="10" y="9" width="1" height="1"/><rect x="14" y="9" width="1" height="1"/>
<rect x="3" y="11" width="1" height="1"/><rect x="7" y="11" width="1" height="1"/>
<rect x="12" y="12" width="1" height="1"/><rect x="16" y="12" width="1" height="1"/>
</g></pattern>
<pattern id="pp" patternUnits="userSpaceOnUse" x="1100" y="1770" width="17" height="17">
<rect width="17" height="17" fill="#EAA6C3"/>
<g fill="#000">
<rect x="14" y="10" width="1" height="1"/><rect x="18" y="10" width="1" height="1"/><rect x="1" y="10" width="1" height="1"/>
<rect x="12" y="12" width="1" height="1"/><rect x="16" y="12" width="1" height="1"/>
<rect x="14" y="14" width="1" height="1"/><rect x="1" y="14" width="1" height="1"/>
<rect x="12" y="16" width="1" height="1"/><rect x="16" y="16" width="1" height="1"/>
</g></pattern>
</defs>
<line x1="249.5" y1="1364.5" x2="1641.5" y2="1364.5" stroke="#C4C4C4" stroke-width="1" stroke-dasharray="5 4"/>
<line x1="249.5" y1="1476.5" x2="1641.5" y2="1476.5" stroke="#C4C4C4" stroke-width="1" stroke-dasharray="5 4"/>
<line x1="249.5" y1="1588.5" x2="1641.5" y2="1588.5" stroke="#C4C4C4" stroke-width="1" stroke-dasharray="5 4"/>
<line x1="249.5" y1="1701.5" x2="1641.5" y2="1701.5" stroke="#C4C4C4" stroke-width="1" stroke-dasharray="5 4"/>
<line x1="249.5" y1="1813.5" x2="1641.5" y2="1813.5" stroke="#C4C4C4" stroke-width="1" stroke-dasharray="5 4"/>
<line x1="249.5" y1="1926.5" x2="1641.5" y2="1926.5" stroke="#C4C4C4" stroke-width="1" stroke-dasharray="5 4"/>
<line x1="249.5" y1="2038.5" x2="1641.5" y2="2038.5" stroke="#C4C4C4" stroke-width="1" stroke-dasharray="5 4"/>
<line x1="249.5" y1="2151.5" x2="1641.5" y2="2151.5" stroke="#C4C4C4" stroke-width="1" stroke-dasharray="5 4"/>
<line x1="249.5" y1="2263.5" x2="1641.5" y2="2263.5" stroke="#C4C4C4" stroke-width="1" stroke-dasharray="5 4"/>
<line x1="249.5" y1="2375.5" x2="1641.5" y2="2375.5" stroke="#C4C4C4" stroke-width="1" stroke-dasharray="5 4"/>
<line x1="479.5" y1="1310.9" x2="479.5" y2="2429.0" stroke="#C4C4C4" stroke-width="1" stroke-dasharray="5 4"/>
<line x1="712.5" y1="1310.9" x2="712.5" y2="2429.0" stroke="#C4C4C4" stroke-width="1" stroke-dasharray="5 4"/>
<line x1="945.5" y1="1310.9" x2="945.5" y2="2429.0" stroke="#C4C4C4" stroke-width="1" stroke-dasharray="5 4"/>
<line x1="1178.5" y1="1310.9" x2="1178.5" y2="2429.0" stroke="#C4C4C4" stroke-width="1" stroke-dasharray="5 4"/>
<line x1="1411.5" y1="1310.9" x2="1411.5" y2="2429.0" stroke="#C4C4C4" stroke-width="1" stroke-dasharray="5 4"/>
<rect x="412" y="1328.5" width="92.9" height="43.8" fill="#98D7F2" stroke="#000" stroke-width="4" stroke-linejoin="round"/>
<rect x="412" y="1394.0" width="92.9" height="45.7" fill="url(#pb)" stroke="#000" stroke-width="4" stroke-linejoin="round"/>
<rect x="412" y="1471.4" width="92.9" height="44.3" fill="url(#pp)" stroke="#000" stroke-width="4" stroke-linejoin="round"/>
<text x="530.41" y="1368.78" font-size="53" font-weight="bold" fill="#000" >Cat + FAL = Cat/FAL</text>
<text x="530.41" y="1435.58" font-size="53" font-weight="bold">Cat/FAL + H<tspan font-size="34" dy="11">2</tspan><tspan dy="-11"> = Cat/FOL</tspan></text>
<text x="530.41" y="1512.38" font-size="53" font-weight="bold" fill="#000" >Cat/FOL = Cat + FOL</text>
<rect x="270.00" y="1870.00" width="62" height="190.72" fill="#98D7F2" stroke="#000" stroke-width="3.7"/>
<rect x="332.00" y="1870.00" width="62" height="104.33" fill="url(#pb)" stroke="#000" stroke-width="3.7"/>
<rect x="394.00" y="1617.06" width="62" height="252.94" fill="url(#pp)" stroke="#000" stroke-width="3.7"/>
<rect x="503.00" y="1870.00" width="62" height="135.63" fill="#98D7F2" stroke="#000" stroke-width="3.7"/>
<rect x="565.00" y="1870.00" width="62" height="73.41" fill="url(#pb)" stroke="#000" stroke-width="3.7"/>
<rect x="627.00" y="1703.06" width="62" height="166.94" fill="url(#pp)" stroke="#000" stroke-width="3.7"/>
<rect x="736.00" y="1870.00" width="62" height="154.75" fill="#98D7F2" stroke="#000" stroke-width="3.7"/>
<rect x="798.00" y="1870.00" width="62" height="75.88" fill="url(#pb)" stroke="#000" stroke-width="3.7"/>
<rect x="860.00" y="1681.53" width="62" height="188.47" fill="url(#pp)" stroke="#000" stroke-width="3.7"/>
<rect x="969.00" y="1870.00" width="62" height="444.06" fill="#98D7F2" stroke="#000" stroke-width="3.7"/>
<rect x="1031.00" y="1577.20" width="62" height="292.80" fill="url(#pb)" stroke="#000" stroke-width="3.7"/>
<rect x="1093.00" y="1760.90" width="62" height="109.10" fill="url(#pp)" stroke="#000" stroke-width="3.7"/>
<rect x="1202.00" y="1870.00" width="62" height="453.11" fill="#98D7F2" stroke="#000" stroke-width="3.7"/>
<rect x="1264.00" y="1821.38" width="62" height="48.62" fill="url(#pb)" stroke="#000" stroke-width="3.7"/>
<rect x="1326.00" y="1507.61" width="62" height="362.39" fill="url(#pp)" stroke="#000" stroke-width="3.7"/>
<rect x="1435.00" y="1870.00" width="62" height="28.55" fill="#98D7F2" stroke="#000" stroke-width="3.7"/>
<rect x="1497.00" y="1870.00" width="62" height="59.25" fill="url(#pb)" stroke="#000" stroke-width="3.7"/>
<rect x="1559.00" y="1824.36" width="62" height="45.64" fill="url(#pp)" stroke="#000" stroke-width="3.7"/>
<rect x="222" y="1867" width="1422.5" height="6" fill="#000"/>
<rect x="244.0" y="1304.9" width="5" height="1130.1" fill="#000"/>
<rect x="1642.0" y="1304.9" width="5" height="1130.1" fill="#000"/>
<rect x="222" y="1304.9" width="1425.0" height="6" fill="#000"/>
<rect x="222" y="2429.0" width="1425.0" height="6" fill="#000"/>
<rect x="222" y="1417.82" width="24.5" height="5" fill="#000"/>
<rect x="222" y="1530.24" width="24.5" height="5" fill="#000"/>
<rect x="222" y="1642.66" width="24.5" height="5" fill="#000"/>
<rect x="222" y="1755.08" width="24.5" height="5" fill="#000"/>
<rect x="222" y="1979.92" width="24.5" height="5" fill="#000"/>
<rect x="222" y="2092.34" width="24.5" height="5" fill="#000"/>
<rect x="222" y="2204.76" width="24.5" height="5" fill="#000"/>
<rect x="222" y="2317.18" width="24.5" height="5" fill="#000"/>
<rect x="233.7" y="1361.61" width="12.8" height="5" fill="#000"/>
<rect x="233.7" y="1474.03" width="12.8" height="5" fill="#000"/>
<rect x="233.7" y="1586.45" width="12.8" height="5" fill="#000"/>
<rect x="233.7" y="1698.87" width="12.8" height="5" fill="#000"/>
<rect x="233.7" y="1811.29" width="12.8" height="5" fill="#000"/>
<rect x="233.7" y="1923.71" width="12.8" height="5" fill="#000"/>
<rect x="233.7" y="2036.13" width="12.8" height="5" fill="#000"/>
<rect x="233.7" y="2148.55" width="12.8" height="5" fill="#000"/>
<rect x="233.7" y="2260.97" width="12.8" height="5" fill="#000"/>
<rect x="233.7" y="2373.39" width="12.8" height="5" fill="#000"/>
<text x="128.90" y="1322.28" font-size="50" fill="#000"  letter-spacing="1.3">100</text>
<text x="155.20" y="1434.70" font-size="50" fill="#000"  letter-spacing="1.3">80</text>
<text x="155.20" y="1547.12" font-size="50" fill="#000"  letter-spacing="1.3">60</text>
<text x="155.20" y="1659.54" font-size="50" fill="#000"  letter-spacing="1.3">40</text>
<text x="155.20" y="1771.96" font-size="50" fill="#000"  letter-spacing="1.3">20</text>
<text x="181.50" y="1884.38" font-size="50" fill="#000"  letter-spacing="1.3">0</text>
<text x="137.25" y="1996.80" font-size="50" fill="#000"  letter-spacing="1.3">-20</text>
<text x="137.25" y="2109.22" font-size="50" fill="#000"  letter-spacing="1.3">-40</text>
<text x="137.25" y="2221.64" font-size="50" fill="#000"  letter-spacing="1.3">-60</text>
<text x="137.25" y="2334.06" font-size="50" fill="#000"  letter-spacing="1.3">-80</text>
<text x="110.95" y="2446.48" font-size="50" fill="#000"  letter-spacing="1.3">-100</text>
<text x="262.58" y="1382.28" font-size="71" font-weight="bold" fill="#000" >(b)</text>
<text transform="translate(83.90,2095.60) rotate(-90)" x="0" y="0" font-size="82" font-weight="bold">&#916;<tspan font-size="50" dy="22">r</tspan><tspan dy="-22">G (kJ/mol)</tspan></text>
<text x="304.27" y="2494.57" font-size="64.5" font-weight="bold" fill="#000" >NiO</text>
<text x="517.55" y="2494.41" font-size="64.5" font-weight="bold" fill="#000" >CuO</text>
<text x="748.51" y="2494.57" font-size="64.5" font-weight="bold" fill="#000" >ZnO</text>
<text x="947.37" y="2494.57" font-size="64.5" font-weight="bold" fill="#000" >NiO-U</text>
<text x="1180.55" y="2494.41" font-size="64.5" font-weight="bold" fill="#000" >CuO-U</text>
<text x="1431.21" y="2494.57" font-size="64.5" font-weight="bold" fill="#000" >ZnO-U</text>
<text x="385.09" y="1599.39" font-size="44.5" font-weight="bold" fill="#00D200" >45.00</text>
<text x="623.23" y="1690.39" font-size="44.5" font-weight="bold" fill="#00D200" >29.70</text>
<text x="855.63" y="1668.96" font-size="44.5" font-weight="bold" fill="#00D200" >33.53</text>
<text x="1095.94" y="1750.66" font-size="44.5" font-weight="bold" fill="#00D200" >19.41</text>
<text x="1309.68" y="1498.06" font-size="44.5" font-weight="bold" fill="#00D200" >64.47</text>
<text x="1552.82" y="1818.89" font-size="44.5" font-weight="bold" fill="#00D200" >8.12</text>
<text x="1016.12" y="1568.39" font-size="44.5" font-weight="bold" fill="#084878" >52.09</text>
<text x="1247.72" y="1807.99" font-size="44.5" font-weight="bold" fill="#084878" >8.65</text>
<text x="362.04" y="2020.19" font-size="44.5" font-weight="bold" fill="#084878" >18.56</text>
<text x="337.66" y="2021.67" font-size="49" fill="#000" >−</text>
<text x="829.34" y="1993.49" font-size="44.5" font-weight="bold" fill="#084878" >13.50</text>
<text x="803.86" y="1994.97" font-size="49" fill="#000" >−</text>
<text x="1511.14" y="1968.89" font-size="44.5" font-weight="bold" fill="#084878" >10.54</text>
<text x="1486.56" y="1970.37" font-size="49" fill="#000" >−</text>
<text x="572.47" y="1987.99" font-size="44.5" font-weight="bold" fill="#084878" >-13.06</text>
<text x="287.73" y="2122.36" font-size="44.5" font-weight="bold" fill="#0868AE" >33.93</text>
<text x="261.56" y="2123.97" font-size="49" fill="#000" >−</text>
<text x="517.23" y="2055.96" font-size="44.5" font-weight="bold" fill="#0868AE" >24.13</text>
<text x="492.26" y="2057.57" font-size="49" fill="#000" >−</text>
<text x="750.93" y="2079.76" font-size="44.5" font-weight="bold" fill="#0868AE" >27.53</text>
<text x="727.46" y="2081.37" font-size="49" fill="#000" >−</text>
<text x="964.06" y="2353.29" font-size="44.5" font-weight="bold" fill="#0868AE" >79.00</text>
<text x="938.46" y="2354.77" font-size="49" fill="#000" >−</text>
<text x="1201.92" y="2361.69" font-size="44.5" font-weight="bold" fill="#0868AE" >80.61</text>
<text x="1177.26" y="2363.17" font-size="49" fill="#000" >−</text>
<text x="1411.12" y="1938.09" font-size="44.5" font-weight="bold" fill="#0868AE" >5.08</text>
<text x="1386.86" y="1939.57" font-size="49" fill="#000" >−</text>
</svg></body></html>
